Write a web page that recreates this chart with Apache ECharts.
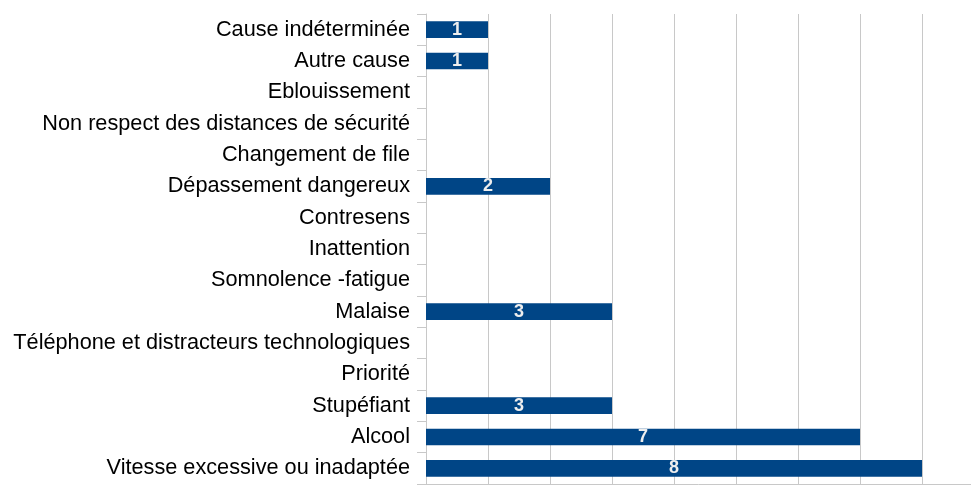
<!DOCTYPE html>
<html><head><meta charset="utf-8">
<script src="https://cdn.jsdelivr.net/npm/echarts@6/dist/echarts.min.js"></script>
<style>html,body{margin:0;padding:0;background:#fff}#c{width:971px;height:485px}</style>
</head><body><div id="c"></div>
<script>
const categories = [
  "Vitesse excessive ou inadaptée",
  "Alcool",
  "Stupéfiant",
  "Priorité",
  "Téléphone et distracteurs technologiques",
  "Malaise",
  "Somnolence -fatigue",
  "Inattention",
  "Contresens",
  "Dépassement dangereux",
  "Changement de file",
  "Non respect des distances de sécurité",
  "Eblouissement",
  "Autre cause",
  "Cause indéterminée"
];
const values = [8, 7, 3, 0, 0, 3, 0, 0, 0, 2, 0, 0, 0, 1, 1];

const gridColors = ['#c8c8c8','#c8c8c8','#c8c8c8','#c8c8c8','#c8c8c8','#c8c8c8','#c8c8c8','#c8c8c8','#c8c8c8','rgba(0,0,0,0)'];

const chart = echarts.init(document.getElementById('c'), null, {renderer: 'canvas'});
chart.setOption({
  animation: false,
  grid: {left: 426, right: 0, top: 14, bottom: 1, containLabel: false},
  xAxis: {
    type: 'value', min: 0, max: 8.79, interval: 1,
    axisLine: {show: true, lineStyle: {color: '#c8c8c8', width: 1}},
    axisTick: {show: false},
    axisLabel: {show: false},
    splitLine: {show: true, lineStyle: {color: gridColors, width: 1}}
  },
  yAxis: {
    type: 'category', data: categories,
    axisLine: {show: true, lineStyle: {color: '#c8c8c8', width: 1}},
    axisTick: {show: true, length: 9, lineStyle: {color: '#c8c8c8'}},
    axisLabel: {color: '#000', fontFamily: 'Liberation Sans', fontSize: 21.7, margin: 16}
  },
  series: [{
    type: 'bar', data: values, barWidth: '53%',
    itemStyle: {color: '#004586'},
    label: {
      show: true, position: 'inside', color: '#eeeeee',
      fontFamily: 'Liberation Sans', fontWeight: 'bold', fontSize: 18,
      formatter: p => p.value === 0 ? '' : String(p.value)
    }
  }]
});
</script></body></html>
